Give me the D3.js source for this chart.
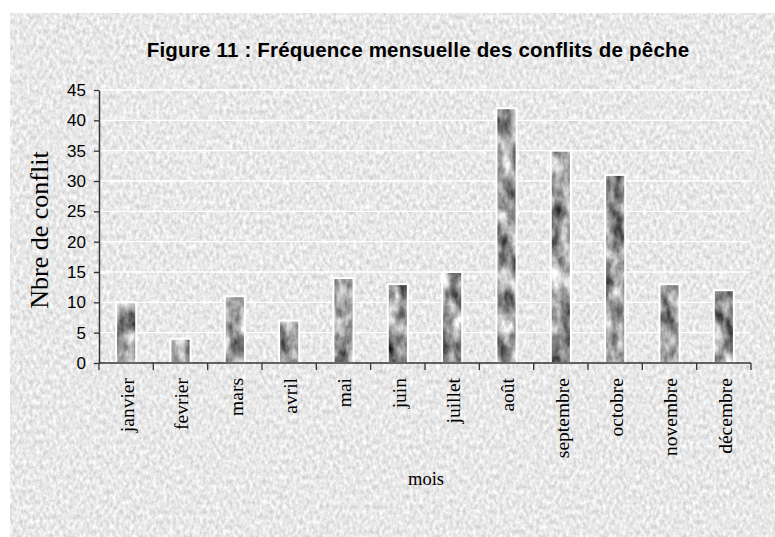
<!doctype html>
<html>
<head>
<meta charset="utf-8">
<script src="https://d3js.org/d3.v7.min.js"></script>
<style>
  body { margin: 0; background: #fff; }
</style>
</head>
<body>
<script>
// data
var mois = ["janvier", "fevrier", "mars", "avril", "mai", "juin", "juillet",
            "août", "septembre", "octobre", "novembre", "décembre"];
var conflits = [10, 4, 11, 7, 14, 13, 15, 42, 35, 31, 13, 12];
var yTicks = [0, 5, 10, 15, 20, 25, 30, 35, 40, 45];

var W = 775, H = 537;
var margin = {top: 90, right: 24, bottom: 174, left: 99},
    width = W - margin.left - margin.right,
    height = H - margin.top - margin.bottom;

var svg = d3.select("body").append("svg")
    .attr("width", W)
    .attr("height", H);

var defs = svg.append("defs");

// granite-like background texture
var fBg = defs.append("filter").attr("id", "granite")
    .attr("color-interpolation-filters", "sRGB")
    .attr("x", 0).attr("y", 0).attr("width", 1).attr("height", 1);
fBg.append("feTurbulence")
    .attr("type", "fractalNoise")
    .attr("baseFrequency", "0.3 0.2")
    .attr("numOctaves", 3)
    .attr("seed", 7)
    .attr("result", "noise");
fBg.append("feColorMatrix")
    .attr("in", "noise")
    .attr("type", "matrix")
    .attr("values", "0.3 0 0 0 0.76  0.3 0 0 0 0.76  0.3 0 0 0 0.76  0 0 0 0 1")
    .attr("result", "grey");
fBg.append("feComposite").attr("in", "grey").attr("in2", "SourceGraphic").attr("operator", "in");

// stone texture for the bars
var fBar = defs.append("filter").attr("id", "stone")
    .attr("color-interpolation-filters", "sRGB")
    .attr("x", 0).attr("y", 0).attr("width", 1).attr("height", 1);
fBar.append("feTurbulence")
    .attr("type", "fractalNoise")
    .attr("baseFrequency", "0.08 0.045")
    .attr("numOctaves", 4)
    .attr("seed", 3)
    .attr("result", "noise");
fBar.append("feColorMatrix")
    .attr("in", "noise")
    .attr("type", "matrix")
    .attr("values", "1.25 0 0 0 -0.02  1.25 0 0 0 -0.02  1.25 0 0 0 -0.02  0 0 0 0 1")
    .attr("result", "grey");
fBar.append("feComposite").attr("in", "grey").attr("in2", "SourceGraphic").attr("operator", "in");

// background panel
svg.append("rect")
    .attr("x", 10).attr("y", 13)
    .attr("width", W - 10).attr("height", H - 13)
    .attr("fill", "#000")
    .attr("filter", "url(#granite)");

var g = svg.append("g")
    .attr("transform", "translate(" + margin.left + "," + margin.top + ")");

var x = d3.scaleBand().domain(mois).range([0, width]).padding(0);
var xBar = d3.scaleBand().domain(mois).range([0, width]).paddingInner(0.63).paddingOuter(0.315);
var y = d3.scaleLinear().domain([0, 45]).range([height, 0]);

// white gridlines
g.append("g")
    .selectAll("line")
    .data(yTicks.filter(function(d) { return d > 0; }))
    .enter().append("line")
    .attr("x1", 0).attr("x2", width)
    .attr("y1", function(d) { return y(d); })
    .attr("y2", function(d) { return y(d); })
    .attr("stroke", "#fff")
    .attr("stroke-width", 1.3);

// bars
var bars = g.append("g").selectAll("g")
    .data(mois)
    .enter().append("g");

bars.append("rect")
    .attr("x", function(d) { return xBar(d); })
    .attr("y", function(d, i) { return y(conflits[i]); })
    .attr("width", xBar.bandwidth())
    .attr("height", function(d, i) { return height - y(conflits[i]); })
    .attr("fill", "#000")
    .attr("filter", "url(#stone)");

bars.append("rect")
    .attr("x", function(d) { return xBar(d); })
    .attr("y", function(d, i) { return y(conflits[i]); })
    .attr("width", xBar.bandwidth())
    .attr("height", function(d, i) { return height - y(conflits[i]); })
    .attr("fill", "none")
    .attr("stroke", "#fff")
    .attr("stroke-width", 2);

// y axis
var yAxis = g.append("g")
    .call(d3.axisLeft(y).tickValues(yTicks).tickSize(5).tickPadding(8).tickSizeOuter(0));
yAxis.select(".domain").attr("stroke", "#333").attr("stroke-width", 1.5);
yAxis.selectAll(".tick line").attr("stroke", "#333").attr("stroke-width", 1.3);
yAxis.selectAll("text")
    .attr("font-family", "Liberation Sans, Arial, sans-serif")
    .attr("font-size", "17px")
    .attr("fill", "#000");

// x axis (line + category boundary ticks)
g.append("line")
    .attr("x1", 0).attr("x2", width)
    .attr("y1", height).attr("y2", height)
    .attr("stroke", "#333").attr("stroke-width", 1.5);

g.append("g").selectAll("line")
    .data(mois.concat(["__end"]))
    .enter().append("line")
    .attr("x1", function(d) { return d === "__end" ? width : x(d); })
    .attr("x2", function(d) { return d === "__end" ? width : x(d); })
    .attr("y1", height).attr("y2", height + 7)
    .attr("stroke", "#333").attr("stroke-width", 1.3);

g.append("g").selectAll("text")
    .data(mois)
    .enter().append("text")
    .attr("transform", function(d) {
        return "translate(" + (x(d) + x.bandwidth() / 2 + 1) + "," + (height + 15) + ") rotate(-90)";
    })
    .attr("dy", "0.35em")
    .attr("text-anchor", "end")
    .attr("font-family", "Liberation Serif, Times New Roman, serif")
    .attr("font-size", "19.5px")
    .attr("fill", "#000")
    .text(function(d) { return d; });

// titles
svg.append("text")
    .attr("x", 418).attr("y", 57)
    .attr("text-anchor", "middle")
    .attr("font-family", "Liberation Sans, Arial, sans-serif")
    .attr("font-weight", "bold")
    .attr("font-size", "20.5px")
    .attr("letter-spacing", "0.2px")
    .attr("fill", "#000")
    .text("Figure 11 : Fréquence mensuelle des conflits de pêche");

svg.append("text")
    .attr("transform", "translate(48,230) rotate(-90)")
    .attr("text-anchor", "middle")
    .attr("font-family", "Liberation Serif, Times New Roman, serif")
    .attr("font-size", "26px")
    .attr("fill", "#000")
    .text("Nbre de conflit");

svg.append("text")
    .attr("x", 426).attr("y", 485)
    .attr("text-anchor", "middle")
    .attr("font-family", "Liberation Serif, Times New Roman, serif")
    .attr("font-size", "18.5px")
    .attr("fill", "#000")
    .text("mois");
</script>
</body>
</html>
